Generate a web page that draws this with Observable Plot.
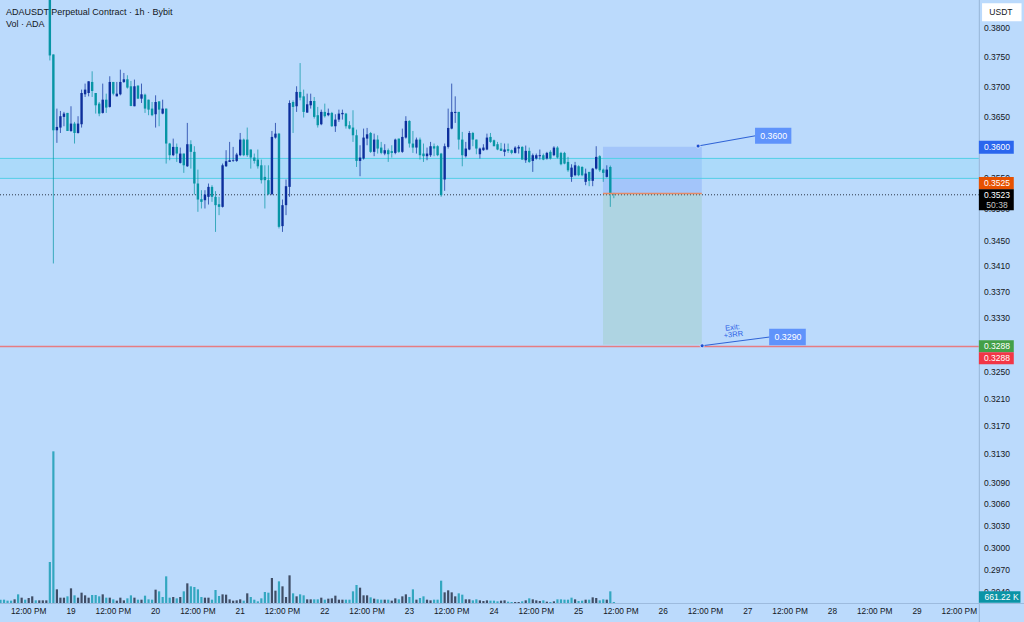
<!DOCTYPE html>
<html>
<head>
<meta charset="utf-8">
<script src="https://cdn.jsdelivr.net/npm/d3@7"></script>
<script src="https://cdn.jsdelivr.net/npm/@observablehq/plot@0.6"></script>
<style>
html,body{margin:0;padding:0;background:#bbdafc;width:1024px;height:622px;overflow:hidden}
#chart{position:relative;width:1024px;height:622px;font-family:"Liberation Sans",Arial,sans-serif}
#chart svg{position:absolute;left:0;top:0}
#title{position:absolute;left:6px;top:6px;font-size:9px;line-height:12px;color:#131722;z-index:5;white-space:pre}
</style>
</head>
<body>
<div id="chart"><div id="title">ADAUSDT Perpetual Contract · 1h · Bybit
Vol · ADA</div></div>
<script>
// Prices in units of 0.00001 USDT, one candle per hour, first candle 18 Oct 18:00
const opens = [39000,37545,36271,36316,36493,36559,36260,36382,36227,36371,
36870,36892,37078,36892,36714,36559,36780,36659,37078,36836,
36870,37078,37123,37005,36670,37016,36797,36864,36780,36631,
36537,36752,36548,36631,36053,35862,35998,35737,35889,35682,
36042,35917,35403,35151,35135,35189,35349,35189,35071,35029,
35682,35753,35769,35769,35862,36118,36118,35955,35824,35791,
35698,35510,35457,35232,36151,36216,34723,35056,35349,36741,
36670,36910,36836,36565,36686,36758,36521,36371,36576,36521,
36559,36338,36448,36537,36548,36355,36316,36189,35769,35808,
36134,36227,35917,36118,35987,35889,35944,35928,35900,36134,
35917,36151,36426,36053,35987,36118,35889,35846,35862,36009,
36009,35889,35468,35998,36299,36559,36576,36118,35846,35955,
36227,36118,35878,35944,35955,36162,36107,36042,35971,35917,
35960,35944,35900,35971,35998,35780,35933,35769,35808,35846,
35862,35808,35917,35862,35987,35900,35900,35753,35510,35537,
35682,35671,35430,35591,35446,35644,35846,35628,35510,35671,
35242];
const closes = [37528,36271,36327,36504,36548,36260,36382,36227,36382,36892,
36949,37089,36926,36686,36548,36780,36648,37078,36881,36881,
37078,37123,36983,36675,37005,36797,36870,36631,36614,36521,
36741,36614,36631,36053,35862,35998,35889,35889,35698,36042,
35917,35403,35146,35109,35226,35349,35189,35056,35029,35698,
35764,35780,35780,35873,36118,35862,35862,35824,35769,35682,
35457,35457,35232,36162,36216,34712,35056,35360,36725,36659,
36910,36814,36576,36703,36758,36493,36355,36576,36504,36559,
36338,36448,36548,36559,36338,36299,36189,35769,35824,36151,
36205,35917,36118,35971,35900,35944,35878,35900,36118,35917,
36162,36426,36053,35987,36118,35862,35846,35889,36009,35971,
35862,35216,36009,36310,36576,36576,36118,35862,35971,36227,
36118,35971,35971,35987,36151,36080,36009,35955,35933,35955,
35933,35900,35987,35998,35791,35933,35753,35862,35862,35862,
35791,35900,35808,35987,35824,35715,35726,35617,35660,35698,
35537,35537,35564,35446,35644,35835,35617,35575,35628,35242,
35230];
const highs = [39500,37545,36631,36592,36576,36559,36670,36410,36504,36949,
37050,37089,37258,36892,36741,37050,36881,37174,37078,37078,
37286,37230,37191,37095,37118,37022,37050,36881,36780,36741,
36853,36752,36780,36631,36064,36134,36053,35987,35889,36393,
36107,36009,35628,35296,35296,35403,35376,35280,35189,35726,
35944,36080,35998,35900,36227,36134,36316,35955,35889,35955,
35791,35698,35698,36260,36393,36227,35146,35468,36769,36769,
37005,37398,36949,36881,36881,36825,36659,36614,36714,36631,
36576,36537,36614,36614,36559,36421,36603,36282,36025,36299,
36310,36244,36216,36189,36080,36042,35971,36025,36134,36134,
36299,36504,36437,36260,36151,36151,36053,35987,36080,36053,
36025,35900,36053,36631,37050,36836,36576,36244,36080,36260,
36244,36118,35987,36042,36216,36227,36118,36080,36064,36053,
36053,35955,36009,36025,36009,36020,35987,35889,35889,35955,
35889,35917,35944,36009,36009,35917,35917,35835,35715,35753,
35698,35682,35644,35591,35655,36009,35862,35644,35698,35693,
35253];
const lows = [37443,34138,36064,36227,36338,36260,36244,36053,36216,36316,
36825,36836,36825,36548,36504,36548,36559,36648,36853,36836,
36853,37061,36966,36670,36670,36797,36725,36559,36521,36504,
36316,36338,36537,35726,35780,35846,35753,35726,35575,35671,
35644,35226,34950,35003,35003,35066,35109,34632,34897,35018,
35671,35753,35753,35753,35846,35846,35835,35644,35726,35644,
35403,35003,35216,35216,36134,34686,34632,34897,35189,36227,
36576,36769,36482,36559,36631,36465,36316,36355,36482,36504,
36327,36244,36410,36448,36299,36288,36080,35671,35521,35791,
36025,35900,35846,35889,35878,35862,35753,35824,35878,35900,
35900,36134,35987,35900,35889,35791,35753,35780,35835,35846,
35846,35189,35285,35971,36288,36393,35955,35682,35824,35944,
36009,35878,35808,35933,35944,36064,36009,35944,35933,35846,
35900,35878,35889,35889,35791,35737,35737,35591,35791,35791,
35780,35791,35791,35846,35808,35698,35715,35591,35430,35521,
35521,35521,35376,35360,35360,35628,35591,35430,35500,35029,
35167];
// Volume in millions, first value 14 hours before the first candle
const volumes = [2.2,2.2,1.54,1.54,2.42,5.72,3.52,2.2,3.3,4.4,1.76,1.76,1.76,1.76,
27.06,100.1,9.02,3.52,3.52,4.4,9.68,5.06,3.52,6.82,
5.06,3.52,5.28,5.28,4.4,5.72,3.52,3.52,2.42,1.54,
3.52,1.76,3.08,5.06,3.52,2.2,2.2,4.84,2.42,2.2,
8.8,7.7,3.96,17.6,3.52,3.96,3.08,3.96,7.7,12.98,
11,10.56,9.02,3.96,3.52,3.52,2.2,8.58,4.62,5.72,
5.5,2.42,1.54,1.76,2.42,1.54,6.38,3.96,2.2,1.1,
3.08,7.26,6.82,16.5,8.14,14.3,11,3.96,18.26,6.38,
4.4,5.72,5.06,2.42,2.42,2.42,2.42,3.52,2.2,2.86,
3.08,4.84,2.2,2.2,2.2,2.2,7.7,11.88,10.12,5.06,
5.06,3.74,2.86,2.42,2.2,2.2,2.2,1.54,3.08,2.42,
4.4,5.72,3.96,9.02,2.2,3.3,4.4,2.2,1.76,2.2,
2.2,14.74,7.04,8.36,7.04,4.4,6.38,5.5,2.42,2.42,
1.76,2.42,1.76,1.32,1.76,1.54,1.54,1.1,1.54,1.76,
.88,.66,.66,.66,1.1,1.76,3.08,2.42,1.76,1.32,
1.76,.88,.66,1.1,2.42,2.42,2.2,2.2,3.52,2.42,
1.32,1.54,2.2,2.2,3.74,3.3,1.76,2.42,2.2,7.7,.66122];
// U = rising bar, D = falling bar
const volumeSides = ["DDDDUDUDUUDUUU",
"DDUUUDUDUU","UUDDDUDUDU","UUDDUDUDDD","UDDDDUDUDU","DDDDUUDDDU",
"UUUUUDUDDD","DDDUUDUUUD","UDDUUDDUDU","UUUUDDDDUU","UDUDDUDUUD",
"UUDDUDDUUD","DDUUUUDDUU","DDUUUDDDUU","DDUUDUDUUU","DUDUDDDDDU",
"DDUDUUDDUD","D"].join("");

const priceTicks = [0.38,0.375,0.37,0.365,0.355,0.35,0.345,0.341,0.337,0.333,0.325,0.321,0.317,0.313,0.309,0.306,0.303,0.3,0.297,0.294];
const dayLabels = d3.range(19,30);
const noonLabels = d3.range(18,30);
const bandHigh = 0.35818, bandLow = 0.35494, lastPrice = 0.3523, entry = 0.3525, stop = 0.36, target = 0.329, crossLine = 0.3288;
const priceTags = [
  {p:0.36,w:13,fill:"#2a66ee",label:"0.3600"},
  {p:0.35414,w:12.5,fill:"#e65100",label:"0.3525"},
  {p:0.32885,w:12,fill:"#43a047",label:"0.3288"},
  {p:0.32705,w:12,fill:"#f23645",label:"0.3288"}
];

const tick = 1e-5;
const hour = 3600e3;
const day19 = Date.UTC(2024,9,19);
const firstCandle = Date.UTC(2024,9,18,18);
const at = h => new Date(day19 + h*hour);

const candles = opens.map((o,i)=>({t:new Date(firstCandle+i*hour),o:o*tick,c:closes[i]*tick,h:highs[i]*tick,l:lows[i]*tick}));
const bars = volumes.map((v,i)=>({t:new Date(firstCandle+(i-14)*hour),v,up:volumeSides[i]==="U"}));
const xTicks = [
  ...dayLabels.map(d=>({t:new Date(Date.UTC(2024,9,d)),label:String(d)})),
  ...noonLabels.map(d=>({t:new Date(Date.UTC(2024,9,d,12)),label:"12:00 PM"}))
];

const up="#0d2f9c", down="#0795a5";
const yDomain=[0.2925,0.38487], yRange=[603,0];
const paneEnd=at(257.7), tagEnd=at(267.6), tagTextX=at(262.7);
const xOpts={type:"utc",domain:[at(-20),at(270.5)],range:[0,1024]};
const base={width:1024,height:622,marginTop:0,marginBottom:0,marginLeft:0,marginRight:0,axis:null,
  style:{background:"transparent",fontFamily:"'Liberation Sans',Arial,sans-serif",overflow:"hidden"}};

const volumePlot = Plot.plot({...base,x:xOpts,y:{type:"linear",domain:[0,398],range:yRange,axis:null},marks:[
  Plot.ruleX(bars,{x:"t",y1:0,y2:"v",stroke:d=>d.up?"#3f4d66":"#33a7c0",strokeWidth:2.2})
]});

const L=(x1,y1,x2,y2)=>({x1:at(x1),y1,x2:at(x2),y2});
const pricePlot = Plot.plot({...base,x:xOpts,y:{type:"log",domain:yDomain,range:yRange,axis:null},marks:[
  Plot.rect([0],{x1:at(151.06),x2:at(179.1),y1:entry,y2:stop,fill:"#7197f5",fillOpacity:0.32}),
  Plot.rect([0],{x1:at(151.06),x2:at(179.1),y1:target,y2:entry,fill:"#93c6ac",fillOpacity:0.32}),
  // zone band
  Plot.rect([0],{x1:at(-20),x2:paneEnd,y1:bandLow,y2:bandHigh,fill:"#8fdcf5",fillOpacity:0.33}),
  Plot.ruleY([bandHigh,bandLow],{x1:at(-20),x2:paneEnd,stroke:"#53cfe6",strokeWidth:1}),
  Plot.ruleY([lastPrice],{x1:at(-20),x2:paneEnd,stroke:"#1c2433",strokeWidth:0.9,strokeDasharray:"1,2"}),
  // candles
  Plot.ruleX(candles,{x:"t",y1:"l",y2:"h",stroke:d=>d.c>=d.o?up:down,strokeWidth:1,strokeOpacity:0.72,clip:true}),
  Plot.ruleX(candles,{x:"t",y1:"o",y2:"c",stroke:d=>d.c>=d.o?up:down,strokeWidth:2.4,clip:true}),
  // entry and target lines
  Plot.ruleY([entry],{x1:at(151.06),x2:at(179.1),stroke:"#e58a66",strokeWidth:1.4}),
  Plot.ruleY([crossLine],{x1:at(-20),x2:paneEnd,stroke:"#e67c82",strokeWidth:1.4}),
  // pane borders
  Plot.ruleX([paneEnd],{stroke:"#9dbbde",strokeWidth:1.2}),
  Plot.ruleY([yDomain[0]],{x1:at(-20),x2:at(270.5),stroke:"#9dbbde",strokeWidth:1}),
  // price ticks
  Plot.text(priceTicks,{x:()=>tagTextX,y:d=>d,text:d=>d.toFixed(4),fontSize:8.5,fill:"#131722"}),
  // callouts
  Plot.link([L(177.9,0.3602,194.2,0.3619)],{x1:"x1",y1:"y1",x2:"x2",y2:"y2",stroke:"#2f63d6",strokeWidth:1.1}),
  Plot.link([L(179.05,0.3289,198.2,0.33022)],{x1:"x1",y1:"y1",x2:"x2",y2:"y2",stroke:"#2f63d6",strokeWidth:1.1}),
  Plot.dot([{x:at(177.9),y:0.3602},{x:at(179.05),y:0.3289}],{x:"x",y:"y",r:2,fill:"#1a4fd0",stroke:"#dceaff",strokeWidth:0.8}),
  Plot.ruleY([0.3619],{x1:at(194.2),x2:at(204.5),stroke:"#5f93fb",strokeWidth:16}),
  Plot.ruleY([0.33022],{x1:at(198.2),x2:at(208.6),stroke:"#5f93fb",strokeWidth:16.5}),
  Plot.text([{x:at(199.35),y:0.3619,s:"0.3600"},{x:at(203.4),y:0.33022,s:"0.3290"}],{x:"x",y:"y",text:"s",fill:"white",fontSize:8.8}),
  Plot.text(["Exit:\n+3RR"],{x:()=>at(187.8),y:()=>0.33111,text:d=>d,fontSize:7.6,fill:"#2f63e6",rotate:-7,lineHeight:0.95}),
  // axis tags
  Plot.ruleY(priceTags,{x1:paneEnd,x2:tagEnd,y:"p",stroke:"fill",strokeWidth:"w"}),
  Plot.text(priceTags,{x:()=>tagTextX,y:"p",text:"label",fill:"white",fontSize:8.5}),
  Plot.ruleY([0.35149],{x1:paneEnd,x2:tagEnd,stroke:"#000",strokeWidth:21}),
  Plot.text(["0.3523"],{x:()=>tagTextX,y:()=>0.3523,text:d=>d,fill:"white",fontSize:8.5}),
  Plot.text(["50:38"],{x:()=>tagTextX,y:()=>0.3507,text:d=>d,fill:"#c8c8c8",fontSize:8.5}),
  Plot.ruleY([0.29335],{x1:paneEnd,x2:at(269.5),stroke:"#0a94a6",strokeWidth:11.5}),
  Plot.text(["661.22 K"],{x:()=>at(264),y:()=>0.29335,text:d=>d,fill:"white",fontSize:8.5}),
  // currency badge
  Plot.ruleY([0.38283],{x1:at(258.6),x2:at(269.8),stroke:"white",strokeWidth:18}),
  Plot.text(["USDT"],{x:()=>at(263.8),y:()=>0.38283,text:d=>d,fill:"#131722",fontSize:8.5}),
  // time labels
  Plot.text(xTicks,{x:"t",text:"label",frameAnchor:"bottom",dy:-9,fontSize:8.3,fill:"#131722"})
]});
document.getElementById("chart").append(volumePlot,pricePlot);
</script>
</body>
</html>
